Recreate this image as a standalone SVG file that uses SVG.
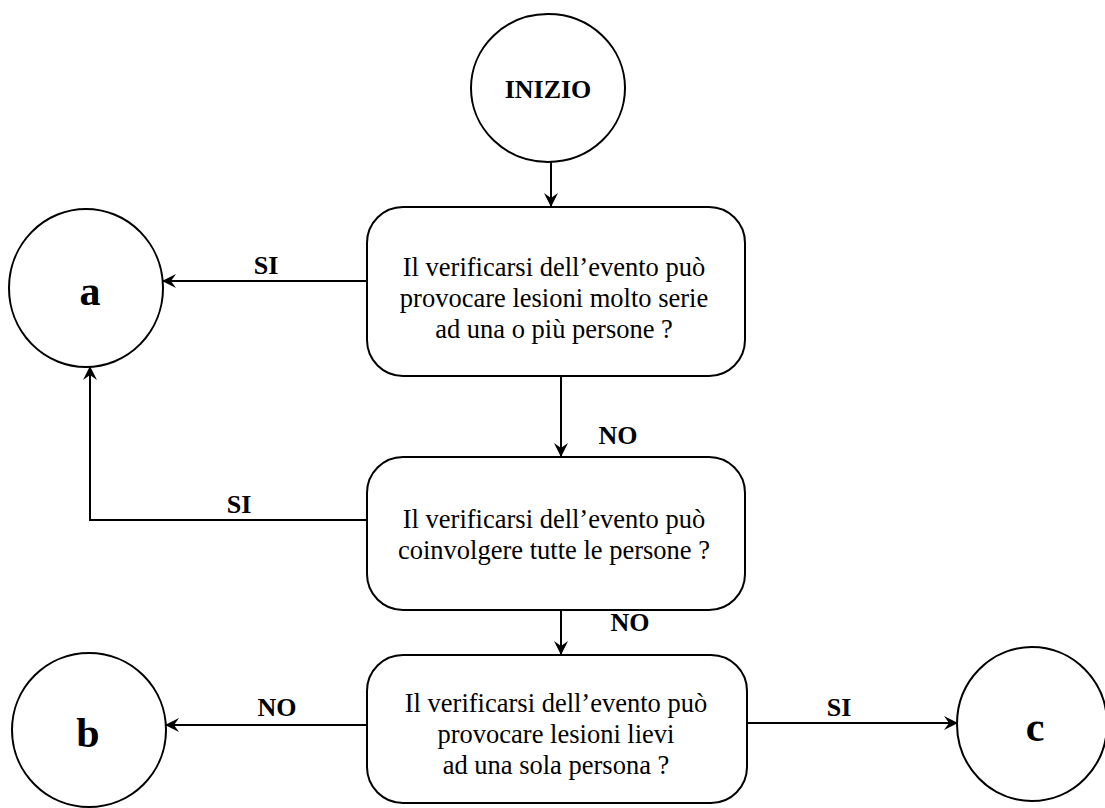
<svg xmlns="http://www.w3.org/2000/svg" width="1105" height="808" viewBox="0 0 1105 808">
<style>
.shape{fill:#fff;stroke:#000;stroke-width:2}
.txt{font-family:"Liberation Serif",serif;font-size:26.5px;fill:#000;text-anchor:middle}
.lbl{font-family:"Liberation Serif",serif;font-size:26px;font-weight:bold;fill:#000;text-anchor:middle}
.big{font-family:"Liberation Serif",serif;font-size:42px;font-weight:bold;fill:#000;text-anchor:middle}
.conn{fill:none;stroke:#000;stroke-width:2}
</style>
<defs>
<marker id="arr" viewBox="0 0 14 14" refX="13" refY="7" markerWidth="14" markerHeight="14" markerUnits="userSpaceOnUse" orient="auto">
<path d="M0,0 L14,7 L0,14 L5,7 z" fill="#000"/>
</marker>
</defs>
<rect width="1105" height="808" fill="#fff"/>
<g id="inizio">
<ellipse class="shape" cx="548" cy="88" rx="77" ry="74"/>
<text class="lbl" x="548" y="98">INIZIO</text>
</g>
<g id="q1">
<rect class="shape" x="367" y="207" width="378" height="169" rx="36"/>
<text class="txt" x="554" y="276">Il verificarsi dell’evento può</text>
<text class="txt" x="554" y="307">provocare lesioni molto serie</text>
<text class="txt" x="554" y="338">ad una o più persone ?</text>
</g>
<g id="q2">
<rect class="shape" x="367" y="457" width="378" height="153" rx="36"/>
<text class="txt" x="554" y="528">Il verificarsi dell’evento può</text>
<text class="txt" x="554" y="559">coinvolgere tutte le persone ?</text>
</g>
<g id="q3">
<rect class="shape" x="367" y="655" width="380" height="148" rx="36"/>
<text class="txt" x="556" y="712">Il verificarsi dell’evento può</text>
<text class="txt" x="556" y="743">provocare lesioni lievi</text>
<text class="txt" x="556" y="774">ad una sola persona ?</text>
</g>
<g id="a">
<ellipse class="shape" cx="86" cy="288" rx="77" ry="79"/>
<text class="big" x="90" y="305">a</text>
</g>
<g id="b">
<ellipse class="shape" cx="89" cy="730" rx="77" ry="77"/>
<text class="big" x="88" y="747">b</text>
</g>
<g id="c">
<ellipse class="shape" cx="1032" cy="724" rx="75" ry="77"/>
<text class="big" x="1035" y="741">c</text>
</g>
<g id="connectors">
<path class="conn" d="M551,162 L551,206" marker-end="url(#arr)"/>
<path class="conn" d="M367,281 L163,281" marker-end="url(#arr)"/>
<path class="conn" d="M561,376 L561,456" marker-end="url(#arr)"/>
<path class="conn" d="M367,520 L90,520 L90,367" marker-end="url(#arr)"/>
<path class="conn" d="M561,610 L561,654" marker-end="url(#arr)"/>
<path class="conn" d="M367,725 L166,725" marker-end="url(#arr)"/>
<path class="conn" d="M747,723 L957,723" marker-end="url(#arr)"/>
<text class="lbl" x="266" y="274">SI</text>
<text class="lbl" x="618" y="444">NO</text>
<text class="lbl" x="239" y="513">SI</text>
<text class="lbl" x="630" y="631">NO</text>
<text class="lbl" x="277" y="716">NO</text>
<text class="lbl" x="839" y="716">SI</text>
</g>
</svg>
